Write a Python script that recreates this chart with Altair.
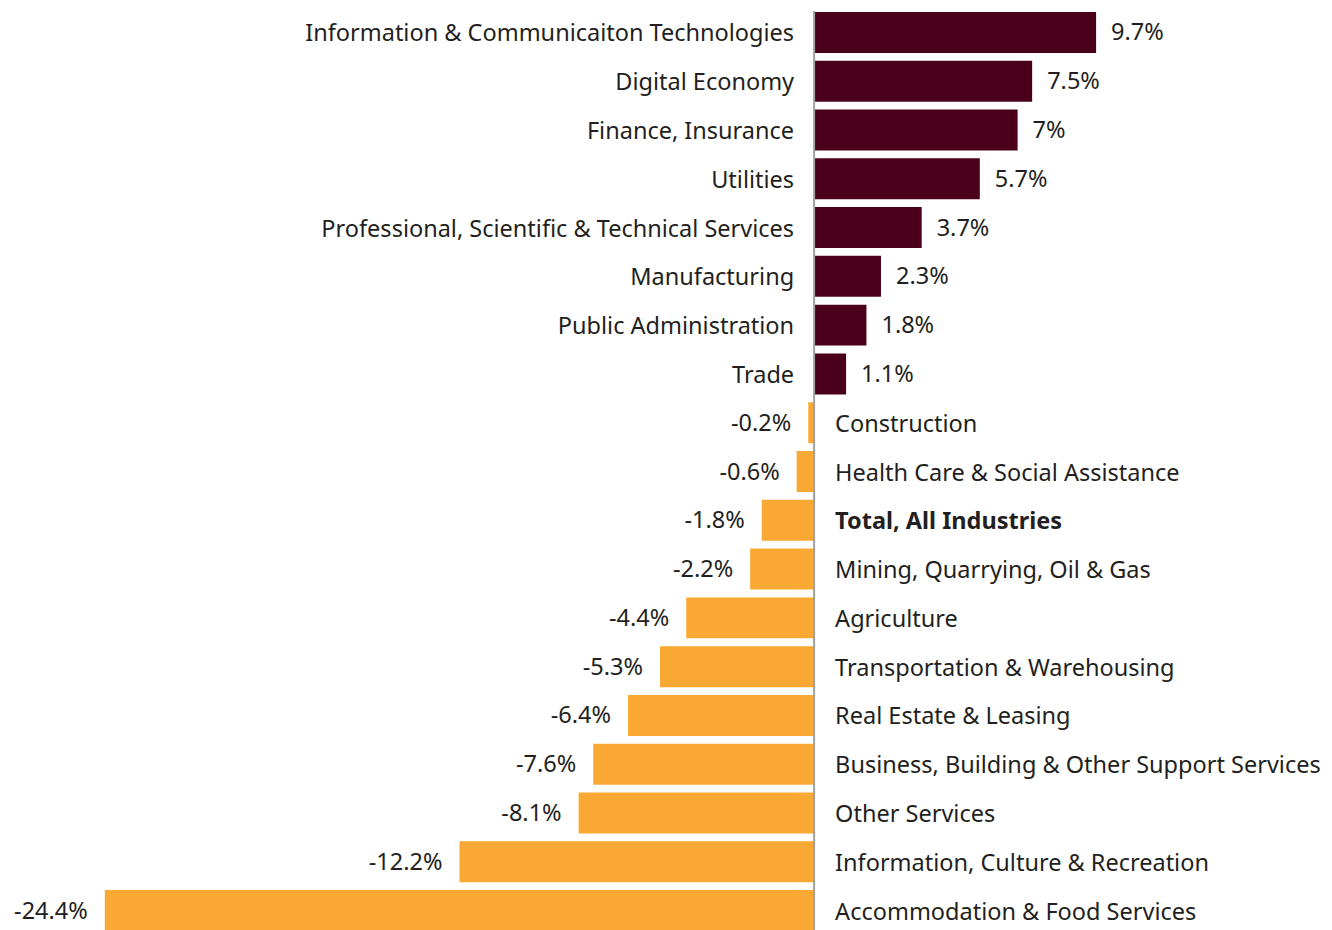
import altair as alt
import pandas as pd

categories = [
    "Information & Communicaiton Technologies",
    "Digital Economy",
    "Finance, Insurance",
    "Utilities",
    "Professional, Scientific & Technical Services",
    "Manufacturing",
    "Public Administration",
    "Trade",
    "Construction",
    "Health Care & Social Assistance",
    "Total, All Industries",
    "Mining, Quarrying, Oil & Gas",
    "Agriculture",
    "Transportation & Warehousing",
    "Real Estate & Leasing",
    "Business, Building & Other Support Services",
    "Other Services",
    "Information, Culture & Recreation",
    "Accommodation & Food Services",
]
values = [9.7, 7.5, 7.0, 5.7, 3.7, 2.3, 1.8, 1.1, -0.2, -0.6, -1.8, -2.2,
          -4.4, -5.3, -6.4, -7.6, -8.1, -12.2, -24.4]
bold_category = "Total, All Industries"

df = pd.DataFrame({
    "category": categories,
    "value": values,
    "label": [f"{v:g}%" for v in values],
    "sign": ["pos" if v >= 0 else "neg" for v in values],
    "bold": [c == bold_category for c in categories],
})

W, H = 1316, 927
FONT = "Noto Sans"
TXT = "#231f20"
CAT_SIZE = 23.5
VAL_SIZE = 23.5

x_scale = alt.Scale(domain=[-27.73, 17.54], nice=False, zero=False)
y_enc = alt.Y("category:N", sort=categories, axis=None,
              scale=alt.Scale(paddingInner=0.16, paddingOuter=0.08))
zero_x = alt.X("zero:Q", scale=x_scale, axis=None)

base = alt.Chart(df)

bars = base.mark_bar().encode(
    x=alt.X("value:Q", scale=x_scale, axis=None),
    x2=alt.datum(0),
    y=y_enc,
    color=alt.Color("sign:N", scale=alt.Scale(domain=["pos", "neg"],
                                               range=["#4a001a", "#f9a833"]),
                    legend=None),
)

zero_rule = base.transform_filter(
    "datum.category == '%s'" % categories[0]
).transform_calculate(zero="0").mark_rule(color="#a0a0a0", strokeWidth=2).encode(
    x=zero_x,
    y=alt.value(3),
    y2=alt.value(H),
)

cat_pos = base.transform_filter("datum.value >= 0").transform_calculate(zero="0").mark_text(
    align="right", baseline="middle", dx=-20, dy=2, font=FONT, fontSize=CAT_SIZE, color=TXT
).encode(x=zero_x, y=y_enc, text="category:N")

cat_neg = base.transform_filter("datum.value < 0 && !datum.bold").transform_calculate(zero="0").mark_text(
    align="left", baseline="middle", dx=21, dy=2, font=FONT, fontSize=CAT_SIZE, color=TXT
).encode(x=zero_x, y=y_enc, text="category:N")

cat_bold = base.transform_filter("datum.bold").transform_calculate(zero="0").mark_text(
    align="left", baseline="middle", dx=21, dy=2, font=FONT, fontSize=CAT_SIZE, color=TXT,
    fontWeight="bold"
).encode(x=zero_x, y=y_enc, text="category:N")

val_pos = base.transform_filter("datum.value >= 0").mark_text(
    align="left", baseline="middle", dx=15, dy=1, font=FONT, fontSize=VAL_SIZE, color=TXT
).encode(x=alt.X("value:Q", scale=x_scale, axis=None), y=y_enc, text="label:N")

val_neg = base.transform_filter("datum.value < 0").mark_text(
    align="right", baseline="middle", dx=-17, dy=1, font=FONT, fontSize=VAL_SIZE, color=TXT
).encode(x=alt.X("value:Q", scale=x_scale, axis=None), y=y_enc, text="label:N")

chart = alt.layer(bars, zero_rule, cat_pos, cat_neg, cat_bold, val_pos, val_neg).properties(
    width=W, height=H, padding=0, autosize=alt.AutoSizeParams(type="none")
).configure_view(stroke=None)

chart.save("out.html", embed_options={"renderer": "svg", "actions": False})
